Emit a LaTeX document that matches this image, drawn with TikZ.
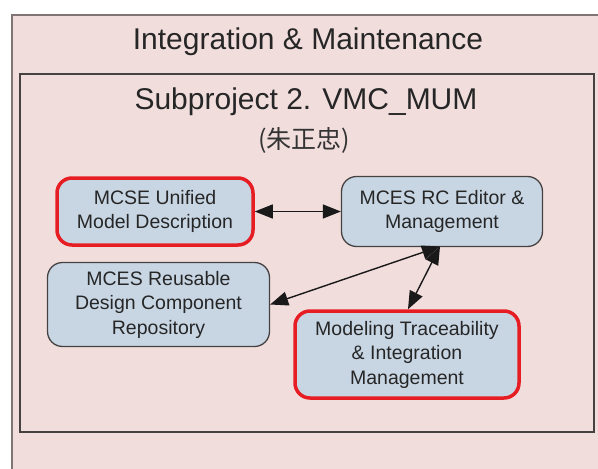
\documentclass[tikz,border=0pt]{standalone}
\usepackage{fontspec}
\setmainfont{Liberation Sans}
\newfontfamily\cjkfont{Noto Sans CJK TC}
\usetikzlibrary{arrows.meta}

\definecolor{panelpink}{RGB}{242,221,221}
\definecolor{boxblue}{RGB}{200,214,228}
\definecolor{framegray}{RGB}{128,116,116}
\definecolor{edgedark}{RGB}{70,66,66}
\definecolor{hired}{RGB}{230,30,36}

\tikzset{
  procbox/.style={draw=edgedark, line width=1.3pt, fill=boxblue,
    rounded corners=15pt, align=center, inner sep=0pt,
    font=\fontsize{19.5}{24.5}\selectfont, text=black!85},
  keybox/.style={procbox, draw=hired, line width=3.5pt},
  link/.style={line width=1.4pt, draw=black!90,
    {Triangle[length=18pt,width=14pt]}-{Triangle[length=18pt,width=14pt]}},
  heading/.style={font=\fontsize{30}{36}\selectfont, text=black!85}
}

\begin{document}
\begin{tikzpicture}[x=1pt,y=-1pt]
  \useasboundingbox (0,0) rectangle (598,469);
  \fill[white] (0,0) rectangle (598,469);

  % outer frame (runs off the right and bottom edges)
  \clip (0,0) rectangle (598,469);
  \draw[framegray, line width=2.2pt, fill=panelpink] (12,15) rectangle (640,520);

  \node[heading] (title) at (308,42) {Integration \& Maintenance};

  % subproject frame
  \draw[edgedark, line width=1.3pt] (20,74) rectangle (594,432);
  \node[heading] (sub) at (306,102) {Subproject 2. VMC\_MUM};
  \node[font=\cjkfont\fontsize{25}{30}\selectfont, text=black!80] (lead) at (304,140) {(朱正忠)};

  % process boxes
  \node[keybox, minimum width=196pt, minimum height=67pt] (umd) at (155,211.5)
    {MCSE Unified\\Model Description};
  \node[procbox, minimum width=201pt, minimum height=70pt] (rce) at (442,211.5)
    {MCES RC Editor \&\\Management};
  \node[procbox, minimum width=222pt, minimum height=84pt] (rdc) at (158.5,304.5)
    {MCES Reusable\\Design Component\\Repository};
  \node[keybox, minimum width=224pt, minimum height=87pt] (mti) at (407,354.5)
    {Modeling Traceability\\\& Integration\\Management};

  % connectors
  \coordinate (rcefoot) at (440,246.5);
  \draw[link] (umd.east) -- (rce.west);
  \draw[link] (rcefoot) -- (rdc.east);
  \draw[link] (rcefoot) -- (mti.north -| 408,0);
\end{tikzpicture}
\end{document}
